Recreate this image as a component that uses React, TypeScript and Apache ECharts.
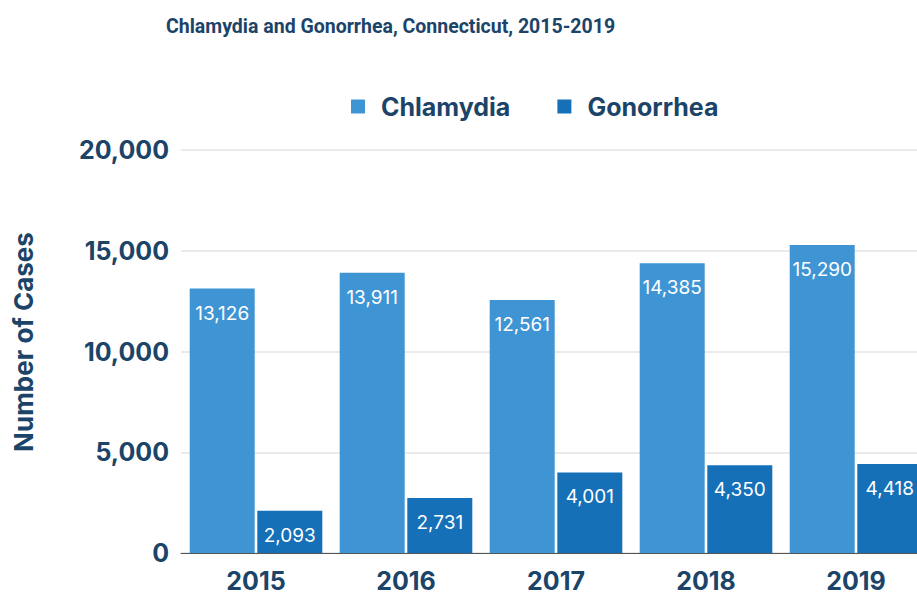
import React, { useEffect, useRef } from "react";
import * as echarts from "echarts";

const years = ["2015", "2016", "2017", "2018", "2019"];
const chlamydia = [13126, 13911, 12561, 14385, 15290];
const gonorrhea = [2093, 2731, 4001, 4350, 4418];
const yTicks = [0, 5000, 10000, 15000, 20000];

const TEXT = "#1b4468";
const FONT = "Inter, 'Open Sans', sans-serif";
const TITLE_FONT = "Roboto, 'Open Sans', sans-serif";

export default function App() {
  const ref = useRef<HTMLDivElement>(null);
  useEffect(() => {
    if (!ref.current) return;
    const chart = echarts.init(ref.current, undefined, { renderer: "svg" });
    const fmt = (v: number) => v.toLocaleString("en-US");
    const label = {
      show: true,
      position: "insideTop" as const,
      distance: 15,
      color: "#ffffff",
      fontFamily: FONT,
      fontSize: 19,
      formatter: (p: any) => fmt(p.value),
    };
    chart.setOption({
      animation: false,
      backgroundColor: "#ffffff",
      title: {
        text: "Chlamydia and Gonorrhea, Connecticut, 2015-2019",
        left: 161,
        top: 11,
        textStyle: { color: TEXT, fontFamily: TITLE_FONT, fontWeight: "bold", fontSize: 19.5 },
      },
      legend: {
        left: 346,
        top: 89,
        itemWidth: 14,
        itemHeight: 14,
        itemGap: 47,
        icon: "rect",
        textStyle: {
          color: TEXT,
          fontFamily: FONT,
          fontWeight: "bold",
          fontSize: 25,
          padding: [0, 0, 0, 11],
        },
        data: ["Chlamydia", "Gonorrhea"],
      },
      grid: { left: 181, width: 750, top: 150, bottom: 44, containLabel: false },
      graphic: [
        {
          type: "text",
          x: 23,
          y: 342,
          rotation: Math.PI / 2,
          style: {
            text: "Number of Cases",
            fill: TEXT,
            font: "bold 26px Inter, 'Open Sans', sans-serif",
            align: "center",
            verticalAlign: "middle",
          },
        },
      ],
      xAxis: {
        type: "category",
        data: years,
        axisTick: { show: false },
        axisLine: { show: true, lineStyle: { color: "#555", width: 1 } },
        axisLabel: {
          color: TEXT,
          fontFamily: FONT,
          fontWeight: "bold",
          fontSize: 25,
          margin: 15,
        },
      },
      yAxis: {
        type: "value",
        min: yTicks[0],
        max: yTicks[yTicks.length - 1],
        interval: 5000,
        axisLine: { show: false },
        axisTick: { show: false },
        splitLine: { lineStyle: { color: "#e3e3e3", width: 1.5 } },
        axisLabel: {
          color: TEXT,
          fontFamily: FONT,
          fontWeight: "bold",
          fontSize: 25,
          margin: 12,
          formatter: (v: number) => fmt(v),
        },
      },
      series: [
        {
          name: "Chlamydia",
          type: "bar",
          data: chlamydia,
          barWidth: 65,
          barGap: "4%",
          itemStyle: { color: "#3f95d4" },
          label,
        },
        {
          name: "Gonorrhea",
          type: "bar",
          data: gonorrhea,
          barWidth: 65,
          barGap: "4%",
          itemStyle: { color: "#1570b8" },
          label,
        },
      ],
    });
    return () => chart.dispose();
  }, []);
  return (
    <div style={{ width: 917, height: 597, position: "absolute", left: 0, top: 0, overflow: "hidden" }}>
      <div ref={ref} style={{ width: 940, height: 597 }} />
    </div>
  );
}
